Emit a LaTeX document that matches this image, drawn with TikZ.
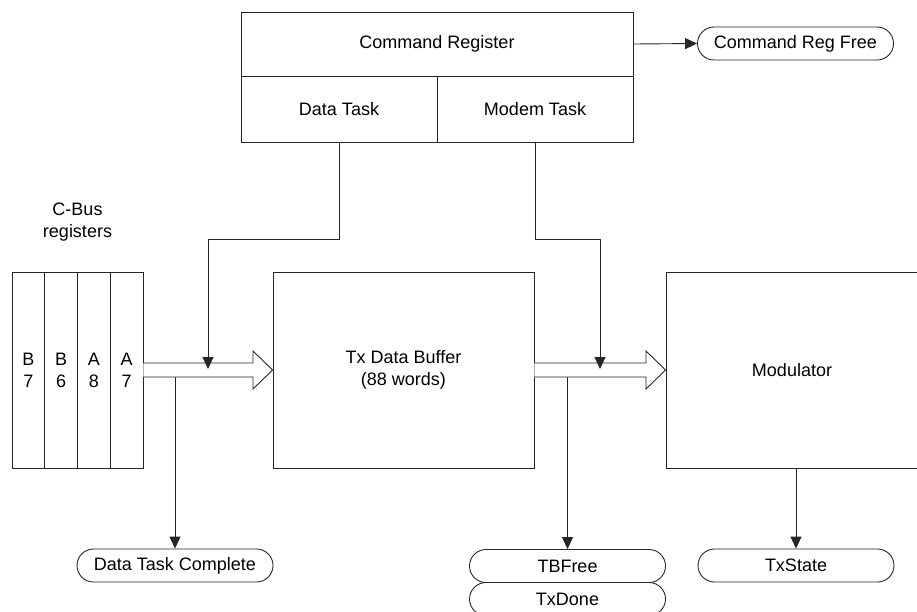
\documentclass[tikz,border=0pt]{standalone}
\usepackage{fontspec}
\setmainfont{Liberation Sans}
\usetikzlibrary{arrows.meta}
\begin{document}
\begin{tikzpicture}[x=1pt,y=-1pt,
  ln/.style={draw=black!85, line width=0.9pt},
  txt/.style={font=\fontsize{18}{22}\selectfont, align=center, inner sep=0pt},
  box/.style={ln, txt, rectangle},
  pill/.style={ln, txt, rounded corners=16.5pt, minimum width=196pt, minimum height=33pt},
  conn/.style={ln, -{Triangle[width=11pt,length=12pt]}},
  hollow/.style={ln, fill=white, line join=miter}
]
\useasboundingbox (0,0) rectangle (917,611);
\clip (0,0) rectangle (917,611);

% Command register
\node[box, minimum width=392pt, minimum height=64pt] (cmdtop) at (437,44) {Command Register};
\node[box, minimum width=196pt, minimum height=66pt] (datatask) at (339,109) {Data Task};
\node[box, minimum width=196pt, minimum height=66pt] (modemtask) at (535,109) {Modem Task};

% C-Bus registers
\node[txt] (cbus) at (77.5,222) {C-Bus\\registers};
\node[box, minimum width=32.75pt, minimum height=196pt] (b7) at (28.375,370) {B\\7};
\node[box, minimum width=32.75pt, minimum height=196pt] (b6) at (61.125,370) {B\\6};
\node[box, minimum width=32.75pt, minimum height=196pt] (a8) at (93.875,370) {A\\8};
\node[box, minimum width=32.75pt, minimum height=196pt] (a7) at (126.625,370) {A\\7};

% Main blocks
\node[box, minimum width=261pt, minimum height=196pt] (buf) at (403.5,370) {Tx Data Buffer\\(88 words)};
\node[box, minimum width=252pt, minimum height=196pt] (mod) at (792,370) {Modulator};

% Status pills
\node[pill] (crf) at (795.5,43.5) {Command Reg Free};
\node[pill] (dtc) at (175,565.5) {Data Task Complete};
\node[pill] (tbf) at (567.5,566) {TBFree};
\node[pill] (txd) at (567.5,599) {TxDone};
\node[pill] (txs) at (796,565.5) {TxState};

% Hollow bus arrows
\draw[hollow] (a7.east |- 0,363) -- (253,363) -- (253,351) -- (buf.west) -- (253,389) -- (253,377) -- (a7.east |- 0,377);
\draw[hollow] (buf.east |- 0,363) -- (646,363) -- (646,351) -- (mod.west) -- (646,389) -- (646,377) -- (buf.east |- 0,377);

% Control connectors
\coordinate (dj) at (208,239);
\coordinate (de) at (208,369);
\coordinate (mj) at (600,239);
\coordinate (me) at (600,369);
\draw[conn] (datatask.south) |- (dj) -- (de);
\draw[conn] (modemtask.south) |- (mj) -- (me);

% Status connectors
\draw[conn] (cmdtop.east) -- (crf.west);
\draw[conn] (dtc.north |- 0,377) -- (dtc.north);
\draw[conn] (tbf.north |- 0,377) -- (tbf.north);
\draw[conn] (txs.north |- mod.south) -- (txs.north);
\end{tikzpicture}
\end{document}
